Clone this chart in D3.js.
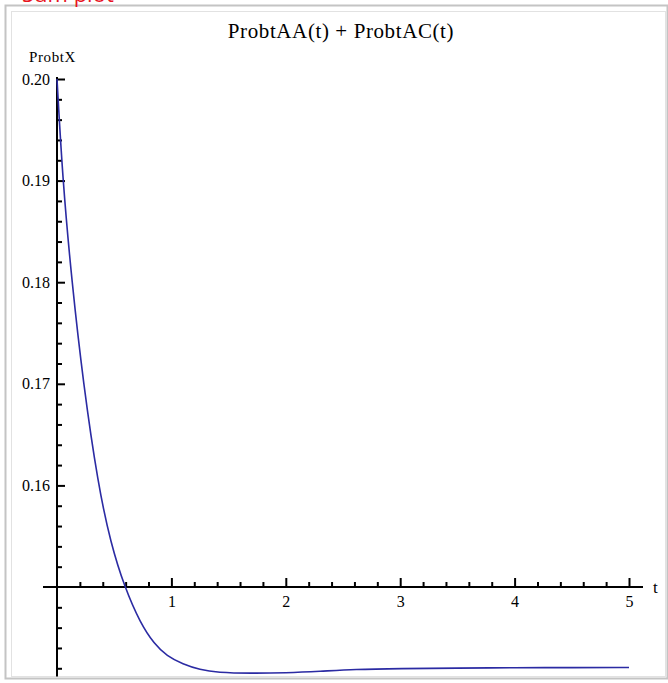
<!DOCTYPE html>
<html>
<head>
<meta charset="utf-8">
<script src="https://cdn.jsdelivr.net/npm/d3@7"></script>
<style>
  body { margin: 0; background: #fff; }
  svg { display: block; }
</style>
</head>
<body>
<div id="chart"></div>
<script>
var svgWidth = 668;
var svgHeight = 683;

// curve
var tValues = [0, 0.05, 0.13, 0.23, 0.36, 0.47, 0.59, 0.73, 0.85, 0.96, 1.1, 1.25, 1.4, 1.7, 2.0, 2.3, 2.6, 3.0, 3.5, 4.0, 4.5, 5.0];
var probValues = [0.200, 0.190, 0.180, 0.170, 0.160, 0.1543, 0.150, 0.1464, 0.1444, 0.1432, 0.1424, 0.14185, 0.14158, 0.1415, 0.14155, 0.1417, 0.1419, 0.14197, 0.14202, 0.14205, 0.14207, 0.14208];

var xMajor = [1, 2, 3, 4, 5];
var yMajor = [0.16, 0.17, 0.18, 0.19, 0.20];

var title = "ProbtAA(t) + ProbtAC(t)";
var xLabel = "t";
var yLabel = "ProbtX";

var svg = d3.select("#chart")
  .append("svg")
  .attr("width", svgWidth)
  .attr("height", svgHeight);

// notebook frame
svg.append("rect")
  .attr("x", 5.5).attr("y", 5.5)
  .attr("width", 662).attr("height", 673)
  .attr("fill", "none")
  .attr("stroke", "#c4c4c4")
  .attr("stroke-width", 2);
svg.append("rect")
  .attr("x", 11.5).attr("y", 11.5)
  .attr("width", 654).attr("height", 665)
  .attr("fill", "none")
  .attr("stroke", "#e2e2e2")
  .attr("stroke-width", 1);

// red heading, cut off by the top edge (as in the source)
svg.append("text")
  .attr("x", 22)
  .attr("y", 2)
  .attr("fill", "#e8141e")
  .attr("font-family", "Open Sans, Liberation Sans, sans-serif")
  .attr("font-size", 22)
  .text("Sum plot");

var x = d3.scaleLinear().domain([0, 5]).range([57, 629]);
var y = d3.scaleLinear().domain([0.15, 0.20]).range([587, 79]);

var serif = "Liberation Serif, Times New Roman, serif";

// axes lines
svg.append("line")
  .attr("x1", 43).attr("x2", 643)
  .attr("y1", y(0.15)).attr("y2", y(0.15))
  .attr("stroke", "#000").attr("stroke-width", 2);
svg.append("line")
  .attr("x1", x(0)).attr("x2", x(0))
  .attr("y1", y(0.2002)).attr("y2", y(0.1412))
  .attr("stroke", "#000").attr("stroke-width", 2);

// y ticks (pointing inside)
var yMinor = d3.range(0.142, 0.1995, 0.002).filter(function(v) {
  return Math.abs(Math.round(v * 100) - v * 100) > 0.05;
});

svg.append("g")
  .attr("transform", `translate(${x(0)},0)`)
  .call(d3.axisLeft(y).tickValues(yMinor).tickSize(-5).tickFormat(""))
  .call(g => g.select(".domain").remove())
  .call(g => g.selectAll("line").attr("stroke-width", 2));

svg.append("g")
  .attr("transform", `translate(${x(0)},0)`)
  .call(d3.axisLeft(y).tickValues(yMajor).tickSize(-8).tickPadding(7).tickFormat(d3.format(".2f")))
  .call(g => g.select(".domain").remove())
  .call(g => g.selectAll("line").attr("stroke-width", 2))
  .call(g => g.selectAll("text").attr("font-family", serif).attr("font-size", 16).attr("fill", "#000"));

// x ticks (pointing up)
var xMinor = d3.range(0.2, 5, 0.2).filter(function(v) {
  return Math.abs(Math.round(v) - v) > 0.05;
});

svg.append("g")
  .attr("transform", `translate(0,${y(0.15)})`)
  .call(d3.axisBottom(x).tickValues(xMinor).tickSize(-5).tickFormat(""))
  .call(g => g.select(".domain").remove())
  .call(g => g.selectAll("line").attr("stroke-width", 2));

svg.append("g")
  .attr("transform", `translate(0,${y(0.15)})`)
  .call(d3.axisBottom(x).tickValues(xMajor).tickSize(-9).tickPadding(9).tickFormat(d3.format("d")))
  .call(g => g.select(".domain").remove())
  .call(g => g.selectAll("line").attr("stroke-width", 2))
  .call(g => g.selectAll("text").attr("font-family", serif).attr("font-size", 16).attr("fill", "#000"));

// axis labels
svg.append("text")
  .attr("x", 653)
  .attr("y", y(0.15) + 6)
  .attr("font-family", serif)
  .attr("font-size", 17)
  .text(xLabel);

svg.append("text")
  .attr("x", 29)
  .attr("y", 62)
  .attr("font-family", serif)
  .attr("font-size", 15)
  .attr("letter-spacing", 0.6)
  .text(yLabel);

// title
svg.append("text")
  .attr("x", 341)
  .attr("y", 38)
  .attr("text-anchor", "middle")
  .attr("font-family", serif)
  .attr("font-size", 21)
  .attr("letter-spacing", 0.6)
  .text(title);

// curve
var points = tValues.map(function(t, i) { return [t, probValues[i]]; });
var line = d3.line()
  .x(d => x(d[0]))
  .y(d => y(d[1]))
  .curve(d3.curveBasis);

svg.append("path")
  .datum(points)
  .attr("d", line)
  .attr("fill", "none")
  .attr("stroke", "#2b2ba3")
  .attr("stroke-width", 1.6);
</script>
</body>
</html>
